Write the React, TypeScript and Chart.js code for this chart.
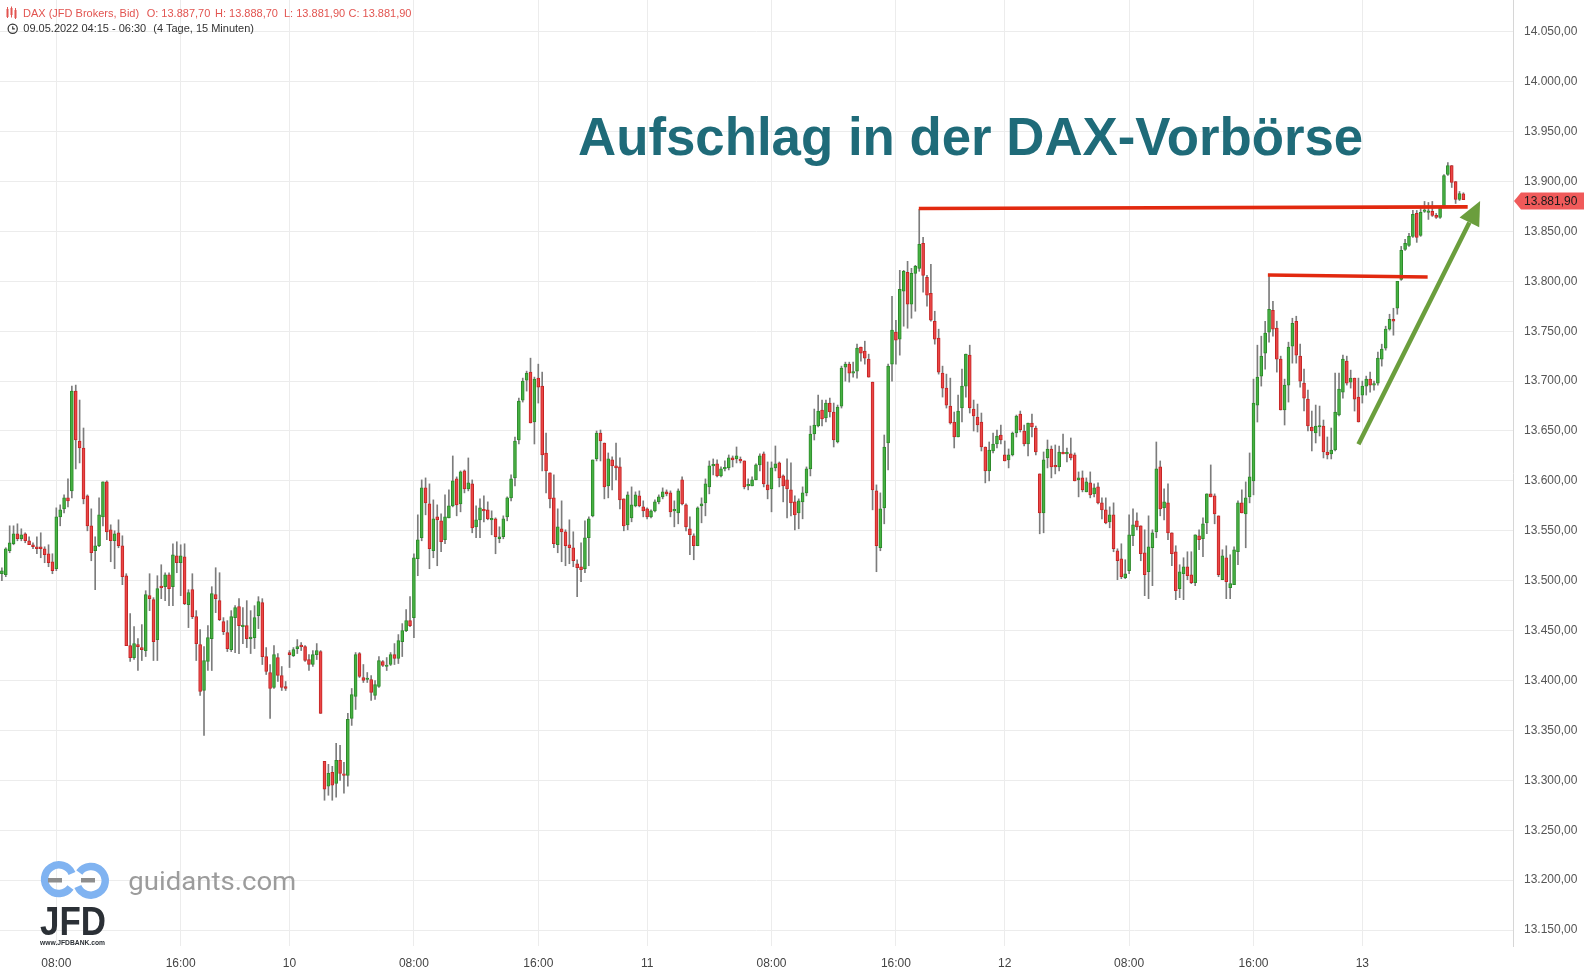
import React, { useEffect, useRef } from 'react';
import { Chart, registerables } from 'chart.js';

Chart.register(...registerables);

type Candle = [number, number, number, number]; // open, high, low, close

const day09: Candle[] = [
  [13518,13522,13505,13509],[13507,13513,13500,13510],[13506,13533,13504,13532],[13530,13555,13528,13538],
  [13537,13555,13536,13547],[13547,13557,13540,13542],[13542,13552,13540,13546],[13547,13548,13538,13540],
  [13540,13544,13536,13536],[13536,13538,13532,13534],[13534,13544,13527,13532],[13534,13548,13523,13532],
  [13532,13534,13518,13526],[13527,13536,13514,13518],[13519,13527,13507,13510],[13512,13573,13510,13564],
  [13564,13576,13555,13571],[13572,13586,13568,13583],[13583,13602,13574,13580],[13590,13695,13583,13690],
  [13690,13696,13612,13641],[13640,13681,13618,13633],[13633,13653,13577,13582],[13585,13586,13550,13555],
  [13555,13572,13520,13528],[13530,13544,13491,13535],[13535,13583,13534,13566],[13564,13599,13555,13599],
  [13599,13600,13541,13549],[13551,13556,13519,13540],[13540,13550,13512,13547],[13548,13561,13533,13535],
  [13535,13545,13496,13504],[13505,13507,13435,13435],[13435,13467,13419,13423],[13423,13454,13421,13437],
  [13436,13442,13410,13434],[13433,13456,13420,13431],[13430,13490,13424,13486],[13485,13507,13470,13482],
  [13481,13483,13420,13439],[13441,13505,13420,13492],[13494,13516,13482,13493],[13494,13508,13480,13506],
  [13506,13508,13475,13492],[13494,13537,13475,13526],[13525,13539,13508,13518],[13518,13536,13485,13525],
  [13524,13537,13476,13477],[13476,13491,13453,13488],[13491,13507,13462,13464],[13464,13470,13420,13437],
  [13436,13451,13385,13389],[13390,13434,13345,13420],[13419,13455,13410,13443],[13442,13494,13410,13487],
  [13486,13513,13468,13482],[13480,13508,13460,13461],[13459,13463,13446,13449],[13448,13460,13429,13432],
  [13431,13470,13429,13464],[13463,13475,13428,13473],[13474,13482,13427,13455],[13454,13473,13437,13454],
  [13455,13480,13433,13442],[13442,13470,13427,13443],[13443,13475,13432,13463],[13465,13484,13452,13479],
  [13478,13482,13416,13424],[13424,13433,13406,13409],[13408,13416,13362,13392],[13393,13435,13392,13426],
  [13423,13427,13399,13405],[13405,13414,13390,13393],[13394,13399,13390,13392],
];

const day10: Candle[] = [
  [13428,13430,13413,13426],[13425,13433,13424,13431],[13432,13441,13427,13434],[13435,13438,13430,13434],
  [13434,13435,13419,13420],[13421,13426,13410,13416],[13416,13430,13414,13426],[13426,13437,13421,13430],
  [13429,13430,13367,13367],[13319,13319,13280,13291],[13294,13316,13285,13307],[13308,13314,13280,13295],
  [13297,13337,13283,13320],[13320,13335,13300,13307],[13306,13318,13287,13305],[13305,13367,13294,13361],
  [13362,13392,13355,13386],[13384,13428,13371,13426],[13427,13428,13403,13404],[13403,13416,13398,13400],
  [13401,13408,13398,13401],[13401,13405,13380,13388],[13385,13400,13381,13396],[13394,13424,13393,13420],
  [13419,13420,13414,13415],[13414,13423,13410,13415],[13416,13428,13415,13426],[13426,13437,13416,13422],
  [13422,13446,13417,13440],[13439,13457,13424,13450],[13450,13471,13449,13460],[13460,13484,13454,13455],
  [13463,13527,13443,13523],[13522,13566,13505,13541],[13543,13601,13540,13593],[13593,13603,13566,13578],
  [13577,13597,13512,13532],[13530,13581,13523,13562],[13564,13576,13515,13561],[13560,13567,13529,13539],
  [13541,13586,13537,13564],[13563,13591,13563,13575],[13575,13625,13574,13600],[13602,13604,13565,13576],
  [13577,13610,13569,13609],[13610,13611,13588,13592],[13592,13623,13590,13598],[13597,13601,13548,13553],
  [13554,13575,13543,13561],[13561,13582,13543,13573],[13571,13585,13559,13570],[13571,13579,13561,13562],
  [13561,13570,13546,13561],[13562,13563,13527,13544],[13542,13554,13538,13544],[13544,13565,13542,13562],
  [13564,13584,13560,13583],[13583,13606,13580,13602],[13603,13644,13595,13640],[13641,13683,13637,13680],
  [13681,13703,13679,13700],[13701,13710,13690,13708],[13709,13723,13658,13658],[13659,13704,13637,13702],
  [13703,13717,13678,13694],[13695,13709,13610,13626],[13628,13648,13588,13610],[13608,13608,13573,13582],
  [13583,13606,13533,13537],[13536,13572,13528,13554],[13552,13580,13519,13549],[13549,13551,13515,13535],
  [13536,13561,13517,13533],[13533,13549,13514,13520],[13517,13521,13484,13513],[13514,13538,13499,13511],
  [13512,13560,13508,13543],[13543,13564,13515,13562],[13565,13621,13564,13621],[13622,13650,13620,13648],
  [13648,13651,13620,13640],[13638,13638,13582,13594],[13595,13628,13583,13622],[13621,13624,13591,13615],
  [13615,13638,13601,13613],[13614,13623,13572,13581],[13582,13582,13550,13555],[13556,13589,13551,13586],
  [13563,13594,13559,13576],[13575,13589,13574,13586],[13585,13590,13574,13575],[13574,13580,13564,13570],
];

const day11: Candle[] = [
  [13572,13573,13562,13564],[13564,13571,13563,13570],[13570,13581,13569,13579],[13579,13586,13577,13584],
  [13584,13593,13582,13589],[13589,13591,13585,13587],[13588,13590,13564,13569],[13570,13580,13554,13570],
  [13568,13592,13557,13590],[13601,13604,13576,13577],[13576,13577,13550,13554],[13552,13564,13526,13546],
  [13545,13547,13521,13535],[13535,13574,13535,13573],[13575,13583,13558,13577],[13578,13602,13565,13597],
  [13594,13620,13587,13615],[13615,13622,13606,13616],[13617,13621,13604,13605],[13605,13614,13604,13612],
  [13612,13620,13610,13613],[13613,13626,13611,13623],[13623,13625,13614,13621],[13622,13634,13618,13625],
  [13621,13624,13618,13620],[13620,13620,13592,13594],[13595,13602,13591,13596],[13595,13604,13595,13601],
  [13601,13617,13601,13616],[13616,13627,13610,13625],[13627,13629,13594,13597],[13596,13619,13582,13591],
  [13592,13619,13569,13613],[13613,13635,13610,13617],[13618,13619,13594,13603],[13605,13606,13579,13595],
  [13601,13622,13563,13592],[13591,13618,13565,13578],[13579,13585,13551,13566],[13568,13582,13552,13580],
  [13579,13594,13562,13588],[13588,13614,13585,13612],[13612,13655,13605,13647],[13647,13672,13641,13656],
  [13655,13686,13654,13670],[13671,13681,13655,13662],[13663,13681,13659,13678],[13678,13683,13664,13669],
  [13669,13678,13634,13641],[13639,13676,13638,13674],[13675,13715,13673,13713],[13714,13719,13700,13717],
  [13717,13719,13699,13708],[13708,13719,13704,13709],[13710,13737,13703,13733],[13734,13734,13720,13728],
  [13730,13740,13717,13723],[13722,13727,13704,13704],[13699,13699,13571,13591],[13590,13596,13509,13535],
  [13533,13588,13530,13572],[13573,13646,13557,13634],[13638,13717,13611,13715],[13717,13785,13700,13751],
  [13749,13761,13717,13741],[13742,13811,13726,13792],[13790,13811,13755,13810],[13809,13820,13753,13777],
  [13777,13813,13763,13808],[13808,13816,13770,13815],[13813,13872,13810,13837],[13838,13844,13789,13806],
  [13804,13806,13775,13786],[13788,13817,13760,13761],[13760,13770,13737,13742],[13743,13752,13707,13709],
  [13708,13715,13684,13693],[13693,13707,13673,13676],[13675,13703,13657,13658],[13659,13669,13633,13644],
  [13644,13686,13644,13670],[13673,13712,13659,13695],[13695,13727,13684,13727],[13726,13736,13668,13673],
  [13672,13681,13650,13665],[13664,13677,13649,13656],[13659,13668,13630,13634],[13634,13634,13598,13610],
  [13610,13639,13600,13631],[13630,13648,13628,13637],[13637,13651,13633,13645],[13646,13656,13637,13641],
];

const day12: Candle[] = [
  [13626,13640,13620,13620],[13621,13632,13613,13626],[13626,13649,13625,13648],[13648,13666,13644,13665],
  [13667,13670,13649,13651],[13650,13656,13635,13637],[13637,13658,13625,13658],[13658,13667,13644,13654],
  [13653,13655,13626,13629],[13607,13607,13547,13568],[13568,13629,13548,13621],[13623,13641,13613,13632],
  [13632,13635,13603,13614],[13615,13636,13607,13614],[13614,13635,13610,13629],[13628,13647,13627,13627],
  [13627,13633,13619,13628],[13627,13643,13621,13623],[13626,13628,13600,13600],[13601,13609,13584,13603],
  [13603,13610,13589,13591],[13589,13603,13589,13599],[13598,13609,13583,13586],[13587,13597,13584,13593],
  [13594,13598,13577,13578],[13578,13583,13562,13571],[13571,13583,13557,13558],[13559,13574,13553,13566],
  [13566,13578,13529,13532],[13530,13532,13501,13520],[13522,13537,13502,13504],[13503,13521,13502,13507],
  [13510,13566,13507,13546],[13545,13572,13535,13556],[13560,13568,13551,13554],[13555,13555,13520,13527],
  [13528,13551,13485,13506],[13509,13565,13482,13534],[13533,13551,13495,13548],[13549,13639,13543,13612],
  [13614,13620,13565,13572],[13573,13592,13561,13579],[13578,13597,13541,13548],[13548,13548,13515,13527],
  [13529,13535,13481,13490],[13492,13516,13483,13509],[13507,13523,13481,13514],[13514,13529,13501,13505],
  [13506,13529,13497,13498],[13498,13546,13495,13546],[13545,13551,13531,13541],[13542,13563,13524,13557],
  [13558,13587,13547,13587],[13587,13616,13584,13584],[13585,13587,13557,13567],[13565,13565,13504,13506],
  [13501,13531,13501,13525],[13523,13535,13482,13499],[13493,13526,13482,13497],[13496,13534,13496,13531],
  [13529,13580,13516,13578],[13578,13591,13568,13568],[13567,13599,13533,13583],[13584,13628,13578,13604],
  [13600,13702,13586,13678],[13676,13736,13659,13704],[13705,13745,13695,13725],[13728,13760,13712,13748],
  [13749,13806,13739,13772],[13771,13780,13745,13752],[13753,13760,13709,13722],[13722,13725,13671,13671],
  [13671,13702,13656,13696],[13696,13739,13679,13734],[13735,13763,13718,13758],[13760,13765,13718,13726],
  [13725,13737,13694,13700],[13698,13712,13670,13683],[13682,13691,13650,13655],[13654,13670,13630,13650],
  [13648,13676,13638,13655],[13654,13675,13645,13654],[13655,13661,13623,13629],[13629,13644,13622,13626],
  [13627,13653,13622,13631],[13631,13708,13630,13669],[13666,13708,13665,13692],[13689,13726,13683,13722],
  [13720,13725,13696,13698],[13699,13711,13693,13703],[13703,13703,13670,13682],[13684,13703,13659,13659],
];

const day13: Candle[] = [
  [13686,13700,13678,13695],[13695,13705,13686,13702],[13702,13709,13689,13696],[13696,13700,13691,13697],
  [13698,13729,13696,13723],[13722,13737,13715,13732],[13733,13755,13731,13752],[13752,13767,13751,13762],
  [13762,13773,13746,13760],[13773,13800,13767,13800],[13802,13835,13801,13831],[13832,13842,13831,13838],
  [13836,13848,13835,13845],[13845,13871,13844,13867],[13868,13871,13839,13844],[13846,13873,13845,13869],
  [13870,13880,13869,13870],[13869,13879,13862,13870],[13870,13880,13865,13866],[13866,13868,13863,13864],
  [13864,13875,13863,13875],[13875,13907,13875,13906],[13907,13919,13906,13916],[13916,13916,13894,13899],
  [13900,13900,13878,13882],[13882,13890,13881,13888],[13887.7,13888.7,13881.9,13881.9],
];

const dayNames = ['09.05.2022', '10.05.2022', '11.05.2022', '12.05.2022', '13.05.2022'];
const dayFirstTimes = ['04:15', '00:00', '00:00', '00:00', '00:00'];
const dayCandles = [day09, day10, day11, day12, day13];

const xTickTimes = [
  '09.05.2022 08:00', '09.05.2022 16:00', '10.05.2022 00:00', '10.05.2022 08:00', '10.05.2022 16:00',
  '11.05.2022 00:00', '11.05.2022 08:00', '11.05.2022 16:00', '12.05.2022 00:00', '12.05.2022 08:00',
  '12.05.2022 16:00', '13.05.2022 00:00',
];
const xTickLabels = ['08:00', '16:00', '10', '08:00', '16:00', '11', '08:00', '16:00', '12', '08:00', '16:00', '13'];

const yTicks = [13150, 13200, 13250, 13300, 13350, 13400, 13450, 13500, 13550, 13600, 13650, 13700, 13750, 13800, 13850, 13900, 13950, 14000, 14050];

// drawn annotations in data space: [index, price]
const resistanceLines: [number, number][][] = [
  [[236.9, 13873.0], [378.1, 13874.6]],
  [[326.7, 13806.3], [367.8, 13804.3]],
];
const trendArrow: [number, number][] = [[350.0, 13636.7], [381.3, 13880.5]];

// ---- build categories ----
const categories: string[] = [];
const candles: Candle[] = [];
dayCandles.forEach((arr, d) => {
  const [hh, mm] = dayFirstTimes[d].split(':').map(Number);
  let m = hh * 60 + mm;
  arr.forEach((c) => {
    const t = `${String(Math.floor(m / 60)).padStart(2, '0')}:${String(m % 60).padStart(2, '0')}`;
    categories.push(`${dayNames[d]} ${t}`);
    candles.push(c);
    m += 15;
  });
});
const xTickIdx = xTickTimes.map((t) => categories.indexOf(t));

const fmt = (v: number) => {
  const [i, d] = v.toFixed(2).split('.');
  return i.replace(/\B(?=(\d{3})+(?!\d))/g, '.') + ',' + d;
};

const FONT = '"Liberation Sans", Arial, sans-serif';
const UP_FILL = '#46b142';
const UP_LINE = '#2c8a2a';
const DN_FILL = '#ea4646';
const DN_LINE = '#c42424';

export default function App() {
  const ref = useRef<HTMLCanvasElement | null>(null);

  useEffect(() => {
    if (!ref.current) return;
    const last = candles[candles.length - 1];

    const annot = {
      id: 'annot',
      afterDatasetsDraw(chart: any) {
        const { ctx, scales } = chart;
        const x = scales.x, y = scales.y;
        ctx.save();
        ctx.strokeStyle = '#e2290f';
        ctx.lineWidth = 3.6;
        ctx.lineCap = 'butt';
        resistanceLines.forEach((l) => {
          ctx.beginPath();
          ctx.moveTo(x.getPixelForValue(l[0][0]), y.getPixelForValue(l[0][1]));
          ctx.lineTo(x.getPixelForValue(l[1][0]), y.getPixelForValue(l[1][1]));
          ctx.stroke();
        });
        const x1 = x.getPixelForValue(trendArrow[0][0]);
        const y1 = y.getPixelForValue(trendArrow[0][1]);
        const x2 = x.getPixelForValue(trendArrow[1][0]);
        const y2 = y.getPixelForValue(trendArrow[1][1]);
        const ang = Math.atan2(y2 - y1, x2 - x1);
        const headLen = 24, headW = 11;
        const bx = x2 - Math.cos(ang) * headLen, by = y2 - Math.sin(ang) * headLen;
        ctx.strokeStyle = '#6b9e3d';
        ctx.fillStyle = '#6b9e3d';
        ctx.lineWidth = 4.5;
        ctx.beginPath();
        ctx.moveTo(x1, y1);
        ctx.lineTo(bx, by);
        ctx.stroke();
        ctx.beginPath();
        ctx.moveTo(x2, y2);
        ctx.lineTo(bx + Math.sin(ang) * headW, by - Math.cos(ang) * headW);
        ctx.lineTo(bx - Math.sin(ang) * headW, by + Math.cos(ang) * headW);
        ctx.closePath();
        ctx.fill();
        ctx.restore();
      },
      afterDraw(chart: any) {
        const { ctx, scales, chartArea } = chart;
        const yy = scales.y.getPixelForValue(last[3]) + 1.5;
        const left = chartArea.right;
        const right = chart.width;
        ctx.save();
        ctx.fillStyle = '#f05a5a';
        ctx.beginPath();
        ctx.moveTo(left + 1, yy);
        ctx.lineTo(left + 8, yy - 8.5);
        ctx.lineTo(right, yy - 8.5);
        ctx.lineTo(right, yy + 8.5);
        ctx.lineTo(left + 8, yy + 8.5);
        ctx.closePath();
        ctx.fill();
        ctx.fillStyle = '#1a1a1a';
        ctx.font = `12px ${FONT}`;
        ctx.textBaseline = 'middle';
        ctx.textAlign = 'left';
        ctx.fillText(fmt(last[3]), left + 11, yy + 0.5);
        ctx.restore();
      },
    };

    const chart = new Chart(ref.current, {
      type: 'bar',
      data: {
        datasets: [
          {
            label: 'body',
            data: candles.map((c, i) => ({ x: i, y: [c[0], c[3]] })) as any,
            backgroundColor: candles.map((c) => (c[3] >= c[0] ? UP_FILL : DN_FILL)),
            borderColor: candles.map((c) => (c[3] >= c[0] ? UP_LINE : DN_LINE)),
            borderWidth: 1,
            borderSkipped: false,
            grouped: false,
            barThickness: 3,
            maxBarThickness: 3,
            minBarLength: 1.5,
          } as any,
          {
            label: 'wick',
            data: candles.map((c, i) => ({ x: i, y: [c[2], c[1]] })) as any,
            backgroundColor: '#7c7c7c',
            borderWidth: 0,
            grouped: false,
            barThickness: 1,
            maxBarThickness: 1,
          } as any,
        ],
      },
      options: {
        animation: false,
        responsive: false,
        devicePixelRatio: 1,
        layout: { padding: 0 },
        plugins: { legend: { display: false }, tooltip: { enabled: false } },
        scales: {
          x: {
            type: 'linear',
            min: 0.5145,
            max: 389.76,
            offset: false,
            afterBuildTicks: (s: any) => {
              s.ticks = xTickIdx.map((v) => ({ value: v }));
            },
            afterFit: (s: any) => {
              s.height = 27;
              s.paddingLeft = 0;
              s.paddingRight = 0;
            },
            ticks: {
              autoSkip: false,
              maxRotation: 0,
              padding: 10,
              color: '#444',
              font: { size: 12, family: FONT },
              callback: (v: any) => {
                const k = xTickIdx.indexOf(Number(v));
                return k >= 0 ? xTickLabels[k] : '';
              },
            },
            grid: { color: '#ececec', drawTicks: false, offset: false },
            border: { display: false },
          },
          y: {
            type: 'linear',
            position: 'right',
            min: 13133.97,
            max: 14081.86,
            afterBuildTicks: (s: any) => {
              s.ticks = yTicks.map((v) => ({ value: v }));
            },
            afterFit: (s: any) => {
              s.width = 71;
              s.paddingTop = 0;
              s.paddingBottom = 0;
            },
            ticks: {
              padding: 11,
              color: '#555',
              font: { size: 12, family: FONT },
              callback: (v: any) => fmt(Number(v)),
            },
            grid: { color: '#ececec', drawTicks: false },
            border: { color: '#d6d6d6' },
          },
        },
      } as any,
      plugins: [annot],
    });
    return () => chart.destroy();
  }, []);

  return (
    <div style={{ position: 'absolute', left: 0, top: 0, width: 1584, height: 973, overflow: 'hidden', background: '#fff' }}>
      <canvas ref={ref} width={1584} height={973} style={{ position: 'absolute', left: 0, top: 0, width: 1584, height: 973 }} />
      <svg width={1584} height={973} style={{ position: 'absolute', left: 0, top: 0, pointerEvents: 'none' }}>
        {/* header */}
        <g fill="#e25450">
          <rect x={6.5} y={9} width={2} height={8} />
          <rect x={10.5} y={8} width={2} height={7} />
          <rect x={14.5} y={10} width={2} height={8} />
          <rect x={7} y={7} width={1} height={11} />
          <rect x={11} y={6.5} width={1} height={11} />
          <rect x={15} y={8} width={1} height={11} />
        </g>
        <g fontFamily={FONT} fontSize={11} fill="#e25450">
          <text x={23} y={16.5}>DAX (JFD Brokers, Bid)</text>
          <text x={146.7} y={16.5}>O: 13.887,70</text>
          <text x={215} y={16.5}>H: 13.888,70</text>
          <text x={284} y={16.5}>L: 13.881,90</text>
          <text x={348.5} y={16.5}>C: 13.881,90</text>
        </g>
        <circle cx={12.7} cy={28.8} r={4.6} fill="none" stroke="#333" strokeWidth={1.2} />
        <path d="M12.7 26.2 V28.9 H14.8" fill="none" stroke="#333" strokeWidth={1.1} />
        <g fontFamily={FONT} fontSize={11} fill="#333">
          <text x={23.3} y={32.3}>09.05.2022 04:15 - 06:30</text>
          <text x={153.3} y={32.3}>(4 Tage, 15 Minuten)</text>
        </g>
        {/* title */}
        <text x={578} y={154.5} fontFamily={FONT} fontWeight="bold" fontSize={52.8} fill="#1f6b79">
          Aufschlag in der DAX-Vorbörse
        </text>
        {/* logo */}
        <g fill="none" stroke="#80b3f1" strokeWidth={7.5}>
          <path d="M72.0 873.5 A14.3 14.3 0 1 0 70.5 887.5" />
          <path d="M77.8 886.5 A14.3 14.3 0 1 0 79.3 872.5" />
        </g>
        <rect x={48} y={878} width={14} height={4.5} fill="#8d8d8d" />
        <rect x={81} y={878} width={14} height={4.5} fill="#8d8d8d" />
        <text x={128.3} y={890} fontFamily="Roboto, sans-serif" fontSize={26} fill="#9c9c9c" textLength={168} lengthAdjust="spacingAndGlyphs">
          guidants.com
        </text>
        <text x={40} y={935} fontFamily={FONT} fontWeight="bold" fontSize={40} fill="#2b3036" textLength={66} lengthAdjust="spacingAndGlyphs">
          JFD
        </text>
        <text x={40} y={944.5} fontFamily={FONT} fontWeight="bold" fontSize={6.5} fill="#2b3036" textLength={65} lengthAdjust="spacingAndGlyphs">
          www.JFDBANK.com
        </text>
      </svg>
    </div>
  );
}
